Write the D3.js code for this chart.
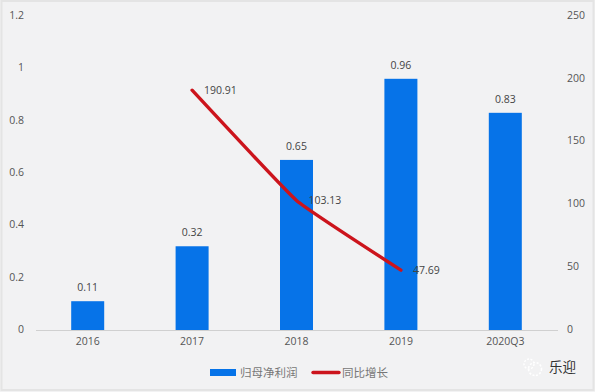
<!DOCTYPE html>
<html><head><meta charset="utf-8">
<script src="https://cdn.jsdelivr.net/npm/d3@7/dist/d3.min.js"></script>
<style>html,body{margin:0;padding:0;background:#f2f2f3}svg{display:block}</style>
</head><body><svg id="c" width="595" height="392"></svg>
<script>
const categories=["2016","2017","2018","2019","2020Q3"];
const profit=[0.11,0.32,0.65,0.96,0.83];
const growth=[null,190.91,103.13,47.69,null];
const leftTicks=[0,0.2,0.4,0.6,0.8,1,1.2];
const rightTicks=[0,50,100,150,200,250];
const seriesNames=["归母净利润","同比增长"];
const watermark="乐迎";

const font='"Open Sans","Noto Sans CJK SC",sans-serif';
const svg=d3.select("#c").style("font-family",font);
svg.append("rect").attr("width",595).attr("height",392).attr("fill","#f2f2f3");
svg.append("rect").attr("x",1.5).attr("y",1).attr("width",592).attr("height",389)
  .attr("fill","none").attr("stroke","#e4e4e4").attr("stroke-width",2);

const x=d3.scaleBand().domain(categories).range([35.5,557.5]);
const yL=d3.scaleLinear().domain([0,1.2]).range([330,16]);
const yR=d3.scaleLinear().domain([0,250]).range([330,16]);
const grey="#555";

const xAxis=d3.axisBottom(x).tickSize(0).tickPadding(8);
const gx=svg.append("g").attr("transform","translate(0,330)").call(xAxis);
gx.select(".domain").attr("stroke","#d0d0d0");
gx.selectAll("text").attr("fill",grey).attr("font-size",10.5).style("font-family",font);

const gl=svg.append("g").attr("transform","translate(24,-1)")
  .call(d3.axisLeft(yL).tickValues(leftTicks).tickFormat(d3.format("~g")).tickSize(0).tickPadding(0));
gl.select(".domain").remove();
gl.selectAll("text").attr("fill",grey).attr("font-size",10.5).style("font-family",font);

const gr=svg.append("g").attr("transform","translate(567,-1)")
  .call(d3.axisRight(yR).tickValues(rightTicks).tickSize(0).tickPadding(0));
gr.select(".domain").remove();
gr.selectAll("text").attr("fill",grey).attr("font-size",10.5).style("font-family",font);

const barW=33;
const cx=d=>x(d)+x.bandwidth()/2;
svg.append("g").selectAll("rect").data(categories).join("rect")
  .attr("x",d=>cx(d)-barW/2).attr("width",barW)
  .attr("y",(d,i)=>yL(profit[i])).attr("height",(d,i)=>330-yL(profit[i]))
  .attr("fill","#0673e8");

svg.append("g").selectAll("text").data(categories).join("text")
  .attr("x",cx).attr("y",(d,i)=>yL(profit[i])-10)
  .attr("text-anchor","middle").attr("fill","#444").attr("font-size",10.5)
  .text((d,i)=>profit[i]);

const pts=categories.map((c,i)=>({c,v:growth[i]})).filter(p=>p.v!==null);
const line=d3.line().x(p=>cx(p.c)).y(p=>yR(p.v)).curve(d3.curveCardinal.tension(0.7));
svg.append("path").datum(pts).attr("d",line).attr("fill","none")
  .attr("stroke","#cc141c").attr("stroke-width",3.4).attr("stroke-linecap","round");

svg.append("g").selectAll("text").data(pts).join("text")
  .attr("x",p=>cx(p.c)+12).attr("y",p=>yR(p.v)+4)
  .attr("fill","#444").attr("font-size",10.5)
  .text(p=>p.v);

const lg=svg.append("g");
lg.append("rect").attr("x",210).attr("y",369).attr("width",26).attr("height",7).attr("fill","#0673e8");
lg.append("text").attr("x",240).attr("y",377).attr("font-size",11.5).attr("fill","#777").text(seriesNames[0]);
lg.append("line").attr("x1",313).attr("x2",339).attr("y1",372.5).attr("y2",372.5)
  .attr("stroke","#cc141c").attr("stroke-width",3.4).attr("stroke-linecap","round");
lg.append("text").attr("x",342).attr("y",377).attr("font-size",11.5).attr("fill","#777").text(seriesNames[1]);

const wm=svg.append("g");
wm.append("circle").attr("cx",535).attr("cy",369).attr("r",6.5).attr("fill","none")
  .attr("stroke","#fff").attr("stroke-width",1.6).attr("stroke-dasharray","2 1.5");
wm.append("circle").attr("cx",529).attr("cy",364).attr("r",5).attr("fill","none")
  .attr("stroke","#fff").attr("stroke-width",1.4).attr("stroke-dasharray","2 1.5");
wm.append("text").attr("x",549).attr("y",372).attr("font-size",13.5).attr("fill","#333").text(watermark);
</script></body></html>
